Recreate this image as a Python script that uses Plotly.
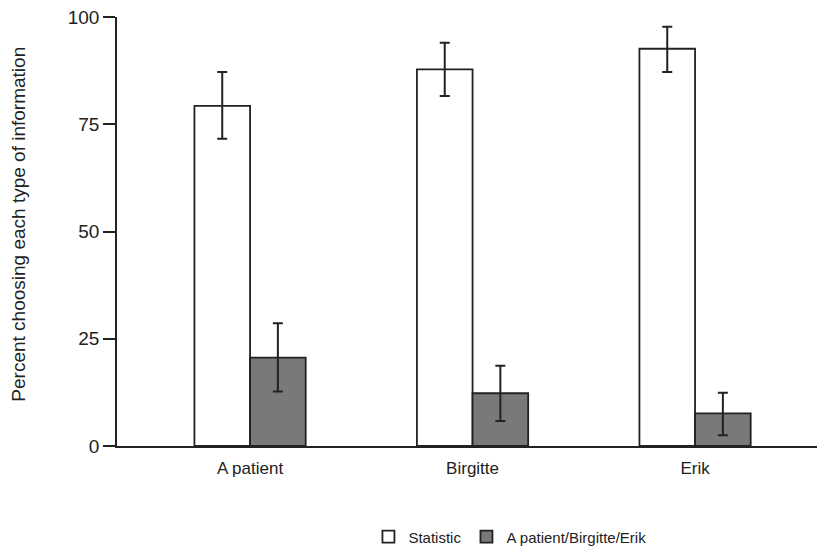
import plotly.graph_objects as go

categories = ["A patient", "Birgitte", "Erik"]
statistic = [79.3, 87.8, 92.6]
statistic_err_plus = [7.9, 6.2, 5.1]
statistic_err_minus = [7.7, 6.2, 5.4]
named = [20.6, 12.3, 7.6]
named_err_plus = [8.0, 6.4, 4.8]
named_err_minus = [7.9, 6.5, 5.1]
y_ticks = [0, 25, 50, 75, 100]

fig = go.Figure()
fig.add_trace(go.Bar(
    x=categories, y=statistic, name="Statistic",
    marker=dict(color="white", line=dict(color="#222222", width=1.8)),
    error_y=dict(type="data", symmetric=False, array=statistic_err_plus,
                 arrayminus=statistic_err_minus, color="#222222", thickness=2, width=5),
))
fig.add_trace(go.Bar(
    x=categories, y=named, name="A patient/Birgitte/Erik",
    marker=dict(color="#77797b", line=dict(color="#222222", width=1.8)),
    error_y=dict(type="data", symmetric=False, array=named_err_plus,
                 arrayminus=named_err_minus, color="#222222", thickness=2, width=5),
))

fig.update_layout(
    width=825, height=556,
    margin=dict(l=109, r=8, t=9, b=118),
    plot_bgcolor="white", paper_bgcolor="white",
    barmode="group", bargap=0.5, bargroupgap=0,
    font=dict(family="Liberation Sans, Arial, sans-serif", size=15, color="#222222"),
    showlegend=True,
    legend=dict(orientation="h", x=0.555, xanchor="center", y=-0.212, yanchor="middle",
                font=dict(size=15), itemwidth=30, traceorder="normal"),
    xaxis=dict(range=[-0.598, 2.584], showline=True, linecolor="#222222", linewidth=1.5,
               ticks="", showgrid=False, zeroline=False, tickfont=dict(size=17),
               ticklabelstandoff=6, automargin=False),
    yaxis=dict(range=[0, 100], tickvals=y_ticks, showline=True, linecolor="#222222",
               linewidth=1.5, ticks="outside", ticklen=12, tickwidth=1.5, tickcolor="#222222",
               showgrid=False, zeroline=False, tickfont=dict(size=19),
               ticklabeloverflow="allow", automargin=False),
    annotations=[dict(text="Percent choosing each type of information", textangle=-90,
                      xref="paper", yref="paper", x=-0.1384, y=0.516,
                      xanchor="center", yanchor="middle", showarrow=False,
                      font=dict(size=19))],
)

fig.write_html("out.html")
